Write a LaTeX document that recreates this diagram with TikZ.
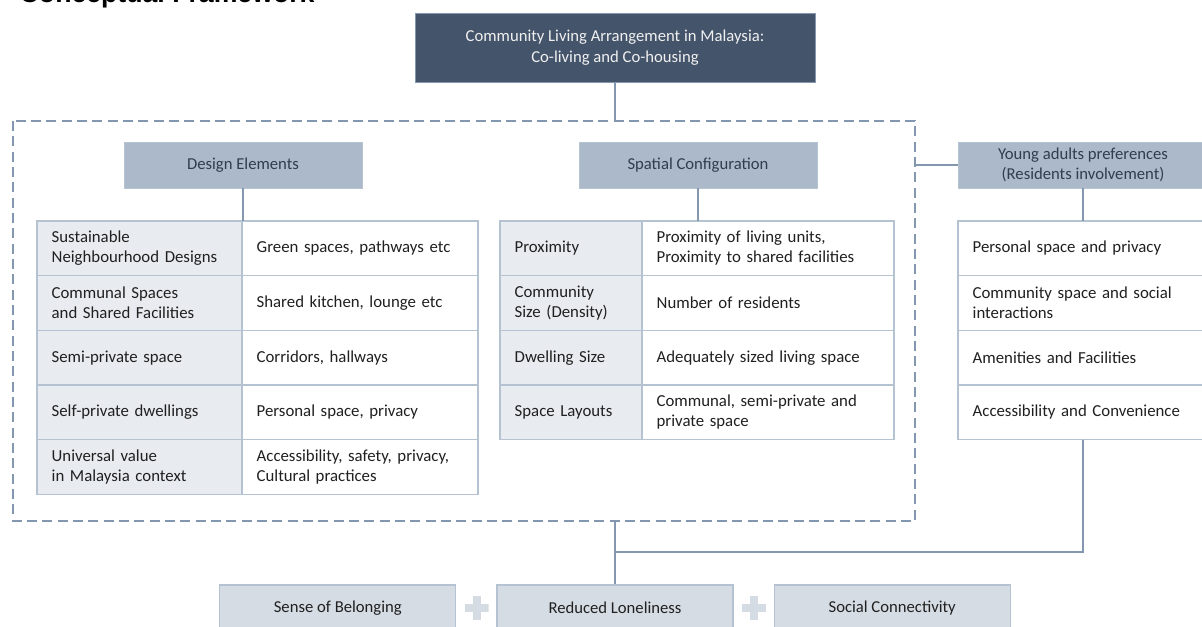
\documentclass[tikz,border=0pt]{standalone}
\usepackage{fontspec}
\setmainfont{Carlito}
\newfontfamily\titlefont{Liberation Sans}
\usetikzlibrary{positioning}

\definecolor{slatedark}{HTML}{44546A}
\definecolor{slatehead}{HTML}{ACB9CA}
\definecolor{slateline}{HTML}{8497B0}
\definecolor{cellline}{HTML}{B4C2D2}
\definecolor{keyfill}{HTML}{E8EBEF}
\definecolor{outfill}{HTML}{D6DCE4}
\definecolor{headtext}{HTML}{2F3D50}
\definecolor{bodytext}{HTML}{202020}

\tikzset{
  topbox/.style={draw=slateline, fill=slatedark, text=white!94!black, line width=0.6pt,
    minimum width=300pt, minimum height=51.75pt, align=center, font=\fontsize{12.5}{15.5}\selectfont},
  headbox/.style={fill=slatehead, draw=slatehead!85!white, text=headtext, minimum width=#1,
    minimum height=34.5pt, align=center, font=\fontsize{12.5}{15.5}\selectfont},
  cell/.style={draw=cellline, line width=0.9pt, text=bodytext, align=left, inner xsep=11pt,
    minimum height=41pt, outer sep=0pt, font=\fontsize{12.6}{15.2}\selectfont},
  keycell/.style={cell, fill=keyfill, text width=#1},
  valcell/.style={cell, fill=white, text width=#1},
  outcome/.style={fill=outfill, draw=cellline, line width=0.9pt, minimum width=177pt,
    minimum height=34.5pt, text=bodytext, font=\fontsize{12.5}{15}\selectfont},
  link/.style={draw=slateline, line width=0.9pt},
  frame/.style={draw=slateline, line width=1.1pt, dash pattern=on 7.5pt off 4pt},
  plusmark/.style={minimum size=18pt, inner sep=0pt, path picture={
    \fill[outfill] ([xshift=-9pt,yshift=-3pt]path picture bounding box.center) rectangle ([xshift=9pt,yshift=3pt]path picture bounding box.center);
    \fill[outfill] ([xshift=-3pt,yshift=-9pt]path picture bounding box.center) rectangle ([xshift=3pt,yshift=9pt]path picture bounding box.center);}}
}

\begin{document}
\begin{tikzpicture}[x=0.75pt, y=-0.75pt]
  \useasboundingbox (0,0) rectangle (1202,627);

  \node[anchor=base west, font=\titlefont\bfseries\fontsize{20}{24}\selectfont] (title) at (15,3) {Conceptual Framework};

  % top box and dashed frame
  \node[topbox] (main) at (615,47.5) {Community Living Arrangement in Malaysia:\\Co-living and Co-housing};
  \coordinate (fnw) at (13,121);
  \coordinate (fse) at (915,521);
  \draw[frame] (fnw) rectangle (fse);

  % headers
  \node[headbox=178.5pt] (design) at (243,165) {Design Elements};
  \node[headbox=178.5pt] (spatial) at (698,165) {Spatial Configuration};
  \node[headbox=187.5pt] (young) at (1083,165) {Young adults preferences\\(Residents involvement)};

  % design elements table
  \node[keycell=131.75pt, anchor=north west] (d1k) at (37,221) {Sustainable\\Neighbourhood Designs};
  \node[valcell=155pt, right=0pt of d1k] (d1v) {Green spaces, pathways etc};
  \node[keycell=131.75pt, below=0pt of d1k] (d2k) {Communal Spaces\\and Shared Facilities};
  \node[valcell=155pt, right=0pt of d2k] (d2v) {Shared kitchen, lounge etc};
  \node[keycell=131.75pt, below=0pt of d2k] (d3k) {Semi-private space};
  \node[valcell=155pt, right=0pt of d3k] (d3v) {Corridors, hallways};
  \node[keycell=131.75pt, below=0pt of d3k] (d4k) {Self-private dwellings};
  \node[valcell=155pt, right=0pt of d4k] (d4v) {Personal space, privacy};
  \node[keycell=131.75pt, below=0pt of d4k] (d5k) {Universal value\\in Malaysia context};
  \node[valcell=155pt, right=0pt of d5k] (d5v) {Accessibility, safety, privacy,\\Cultural practices};

  % spatial configuration table
  \node[keycell=84.5pt, anchor=north west] (s1k) at (500,221) {Proximity};
  \node[valcell=167pt, right=0pt of s1k] (s1v) {Proximity of living units,\\Proximity to shared facilities};
  \node[keycell=84.5pt, below=0pt of s1k] (s2k) {Community\\Size (Density)};
  \node[valcell=167pt, right=0pt of s2k] (s2v) {Number of residents};
  \node[keycell=84.5pt, below=0pt of s2k] (s3k) {Dwelling Size};
  \node[valcell=167pt, right=0pt of s3k] (s3v) {Adequately sized living space};
  \node[keycell=84.5pt, below=0pt of s3k] (s4k) {Space Layouts};
  \node[valcell=167pt, right=0pt of s4k] (s4v) {Communal, semi-private and\\private space};

  % preferences table
  \node[valcell=165.5pt, anchor=north west] (y1) at (958,221) {Personal space and privacy};
  \node[valcell=165.5pt, below=0pt of y1] (y2) {Community space and social\\interactions};
  \node[valcell=165.5pt, below=0pt of y2] (y3) {Amenities and Facilities};
  \node[valcell=165.5pt, below=0pt of y3] (y4) {Accessibility and Convenience};

  % outcomes
  \node[outcome] (lonely) at (615,608) {Reduced Loneliness};
  \node[outcome, left=30pt of lonely] (belong) {Sense of Belonging};
  \node[outcome, right=30pt of lonely] (social) {Social Connectivity};
  \node[plusmark, right=6pt of belong] (plusA) {};
  \node[plusmark, right=6pt of lonely] (plusB) {};

  % connectors
  \coordinate (join) at (615,552);
  \draw[link] (main.south) -- (main.south |- fnw);
  \draw[link] (design.south) -- (design.south |- d1k.north);
  \draw[link] (spatial.south) -- (spatial.south |- s1k.north);
  \draw[link] (young.west) -- (young.west -| fse);
  \draw[link] (young.south) -- (y1.north);
  \draw[link] (y4.south) |- (join);
  \draw[link] (lonely.north |- fse) -- (lonely.north);
\end{tikzpicture}
\end{document}
